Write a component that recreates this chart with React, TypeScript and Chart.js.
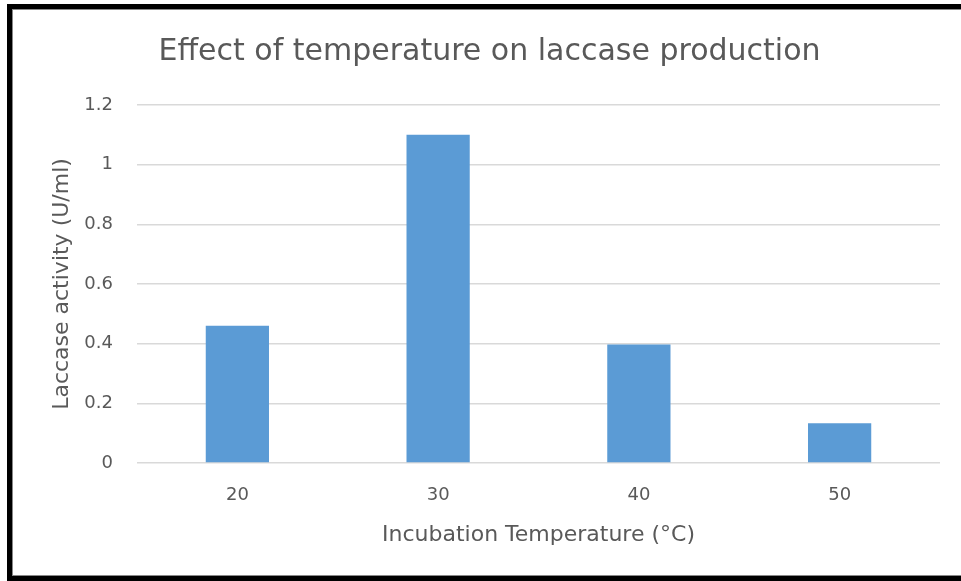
import React, { useEffect, useRef } from "react";
import { Chart, registerables } from "chart.js";

Chart.register(...registerables);

const categories = ["20", "30", "40", "50"];
const laccaseActivity = [0.46, 1.1, 0.397, 0.133];
const yTicks = [0, 0.2, 0.4, 0.6, 0.8, 1, 1.2];

const TEXT = "#595959";
const FONT = "'DejaVu Sans', 'Open Sans', sans-serif";

export default function App() {
  const ref = useRef<HTMLCanvasElement | null>(null);

  useEffect(() => {
    if (!ref.current) return;
    const chart = new Chart(ref.current, {
      type: "bar",
      data: {
        labels: categories,
        datasets: [
          {
            label: "Laccase activity",
            data: laccaseActivity,
            backgroundColor: "#5B9BD5",
            borderWidth: 0,
            categoryPercentage: 1,
            barPercentage: 0.315,
          },
        ],
      },
      options: {
        responsive: false,
        animation: false,
        layout: { padding: { left: 27, right: 21, top: 0, bottom: 0 } },
        plugins: {
          legend: { display: false },
          tooltip: { enabled: false },
          title: {
            display: true,
            text: "Effect of temperature on laccase production",
            color: TEXT,
            font: { family: FONT, size: 30, weight: "normal" },
            padding: { top: 24, bottom: 35 },
          },
        },
        scales: {
          x: {
            grid: { display: false, drawTicks: false },
            border: { display: false },
            ticks: { color: TEXT, font: { family: FONT, size: 18 }, padding: 22 },
            title: {
              display: true,
              text: "Incubation Temperature (°C)",
              color: TEXT,
              font: { family: FONT, size: 22 },
              padding: { top: 10, bottom: 27 },
            },
            afterFit: (axis: any) => {
              axis.height = 112;
            },
          },
          y: {
            min: 0,
            max: 1.2,
            afterBuildTicks: (axis: any) => {
              axis.ticks = yTicks.map((v) => ({ value: v }));
            },
            grid: { color: "#D9D9D9", lineWidth: 1.5, drawTicks: false },
            border: { display: false },
            ticks: {
              color: TEXT,
              font: { family: FONT, size: 18 },
              padding: 24,
              callback: (v: any) => String(Math.round(Number(v) * 10) / 10),
            },
            title: {
              display: true,
              text: "Laccase activity (U/ml)",
              color: TEXT,
              font: { family: FONT, size: 22 },
              padding: { top: 10, bottom: 8 },
            },
            afterFit: (axis: any) => {
              axis.width = 98;
            },
          },
        },
      },
    });
    return () => chart.destroy();
  }, []);

  return (
    <div
      style={{
        position: "fixed",
        left: 0,
        top: 0,
        width: 961,
        height: 581,
        background: "#fff",
        overflow: "hidden",
      }}
    >
      <canvas
        ref={ref}
        width={949}
        height={565}
        style={{ position: "absolute", left: 12, top: 10, width: 949, height: 565 }}
      />
      <div style={{ position: "absolute", left: 7, top: 4, width: 954, height: 5, background: "#000" }} />
      <div style={{ position: "absolute", left: 12, top: 9, width: 949, height: 1, background: "#888" }} />
      <div style={{ position: "absolute", left: 7, top: 4, width: 5, height: 577, background: "#000" }} />
      <div style={{ position: "absolute", left: 12, top: 9, width: 1, height: 566, background: "#888" }} />
      <div style={{ position: "absolute", left: 7, top: 576, width: 954, height: 5, background: "#000" }} />
      <div style={{ position: "absolute", left: 12, top: 575, width: 949, height: 1, background: "#888" }} />
    </div>
  );
}
